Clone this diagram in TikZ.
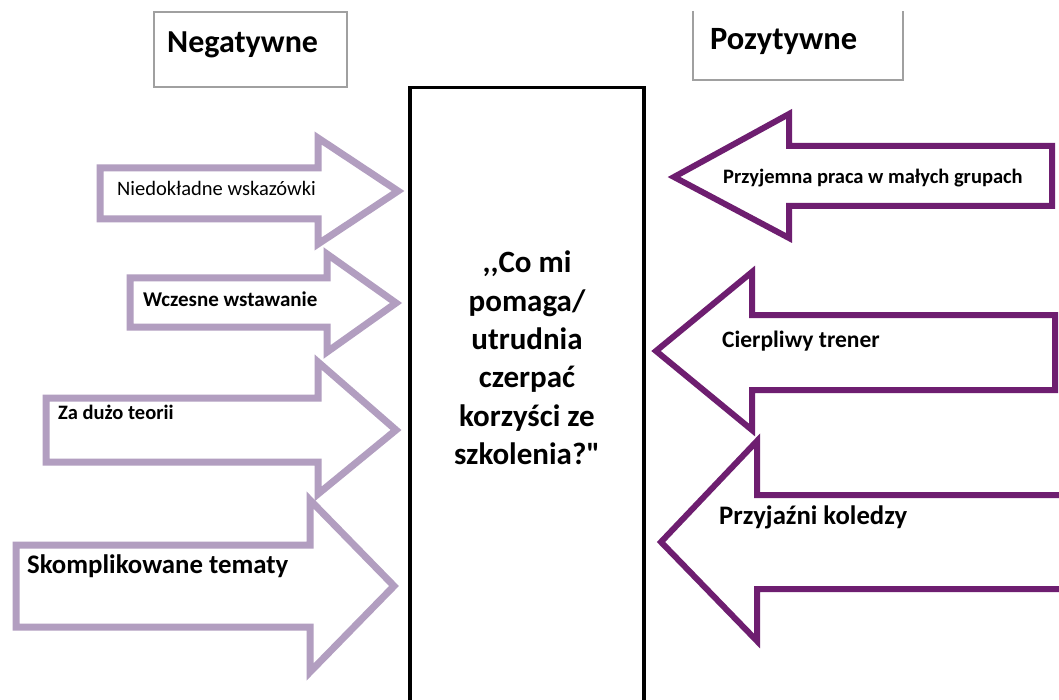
\documentclass[tikz,border=0pt]{standalone}
\usepackage{fontspec}
\setmainfont{Carlito}[Ligatures=TeXOff]
\definecolor{lightpurp}{RGB}{178,158,192}
\definecolor{darkpurp}{RGB}{110,30,112}
\definecolor{boxgray}{RGB}{160,160,160}
\tikzset{
  negarrow/.style={draw=lightpurp, line width=7pt, fill=white, line join=miter},
  posarrow/.style={draw=darkpurp, line width=6pt, fill=white, line join=miter},
  lbl/.style={anchor=base west, inner sep=0pt, text=black},
  titlebox/.style={draw=boxgray, line width=1.6pt},
}
\begin{document}
\begin{tikzpicture}[x=1pt,y=-1pt]
\useasboundingbox (0,0) rectangle (1059,700);
\clip (0,0) rectangle (1059,700);
\fill[white] (0,0) rectangle (1059,700);

% title boxes
\draw[titlebox] (154,12) rectangle (347,87);
\node[lbl, font=\bfseries\fontsize{32}{38}\selectfont] (neg) at (167,53) {Negatywne};
\draw[titlebox] (693,11) -- (693,80) -- (903,80) -- (903,11);
\node[lbl, font=\bfseries\fontsize{32.5}{38}\selectfont] (poz) at (710,50) {Pozytywne};

% central box
\draw[line width=3.5pt] (410,712) -- (410,87.5) -- (644,87.5) -- (644,712);
\node[align=center, inner sep=0pt, font=\bfseries\fontsize{31}{38.4}\selectfont] (q) at (527,358)
  {,,Co mi\\pomaga/\\utrudnia\\czerpać\\korzyści ze\\szkolenia?"};

% negative arrows (left side)
\draw[negarrow] (100,168) -- (318,168) -- (318,138) -- (398,191) -- (318,244) -- (318,219) -- (100,219) -- cycle;
\draw[negarrow] (130,278) -- (327,278) -- (327,254) -- (396,303) -- (327,352) -- (327,327) -- (130,327) -- cycle;
\draw[negarrow] (46,398) -- (318,398) -- (318,362) -- (396,430) -- (318,494) -- (318,462) -- (46,462) -- cycle;
\draw[negarrow] (16,545) -- (310,545) -- (310,500) -- (394,586) -- (310,672) -- (310,627) -- (16,627) -- cycle;

\node[lbl, font=\fontsize{20.5}{24}\selectfont] (n1) at (117,196) {Niedokładne wskazówki};
\node[lbl, font=\bfseries\fontsize{21}{24}\selectfont] (n2) at (143,307) {Wczesne wstawanie};
\node[lbl, font=\bfseries\fontsize{20.5}{24}\selectfont] (n3) at (58,419) {Za dużo teorii};
\node[lbl, font=\bfseries\fontsize{26.8}{30}\selectfont] (n4) at (27,573) {Skomplikowane tematy};

% positive arrows (right side)
\draw[posarrow] (1052,146) -- (789,146) -- (789,114) -- (674,177) -- (789,238) -- (789,206) -- (1052,206) -- cycle;
\draw[posarrow] (1055,315) -- (752,315) -- (752,272) -- (656,351) -- (752,430) -- (752,390) -- (1055,390) -- cycle;
\draw[posarrow] (1075,495) -- (757,495) -- (757,441) -- (661,542) -- (757,641) -- (757,589) -- (1075,589) -- cycle;

\node[lbl, font=\bfseries\fontsize{20.5}{24}\selectfont] (p1) at (723,184) {Przyjemna praca w małych grupach};
\node[lbl, font=\bfseries\fontsize{23.5}{28}\selectfont] (p2) at (722,347) {Cierpliwy trener};
\node[lbl, font=\bfseries\fontsize{26.7}{30}\selectfont] (p3) at (719,524) {Przyjaźni koledzy};
\end{tikzpicture}
\end{document}
